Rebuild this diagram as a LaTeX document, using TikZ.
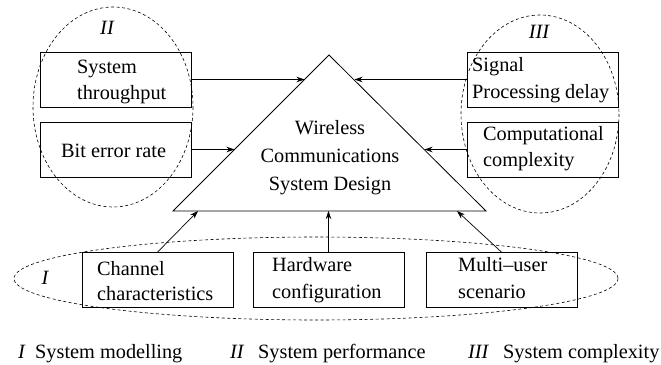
\documentclass[tikz,border=0pt]{standalone}
\usepackage{fontspec}
\setmainfont{Liberation Serif}
\usetikzlibrary{arrows.meta}
\begin{document}
\begin{tikzpicture}[x=1pt,y=-1pt,
  every node/.style={font=\fontsize{20.3}{24}\selectfont},
  boxnode/.style={draw, line width=0.8pt, minimum width=151pt, minimum height=55pt, inner sep=0pt},
  txt/.style={anchor=base west, inner sep=0pt},
  ctxt/.style={anchor=base, inner sep=0pt},
  lab/.style={inner sep=0pt, font=\fontsize{20.3}{24}\selectfont\itshape},
  group/.style={draw, dashed, dash pattern=on 3pt off 2.5pt, line width=0.6pt},
  arr/.style={-{Stealth[length=8pt,width=5.5pt,inset=2.5pt]}, line width=0.7pt}]
\useasboundingbox (0,0) rectangle (661,364);
% groups
\draw[group] (113,107) ellipse [x radius=80, y radius=100];
\draw[group] (540,114) ellipse [x radius=79, y radius=99];
\draw[group] (316,278.5) ellipse [x radius=302, y radius=41.5];
\node[lab] (lII) at (107,28) {II};
\node[lab] (lIII) at (539,32) {III};
\node[lab] (lI) at (45,278) {I};
% triangle
\coordinate (apex) at (329,55);
\coordinate (bl) at (173,211);
\coordinate (br) at (486,211);
\draw[line width=0.8pt] (bl) -- (apex) -- (br) -- cycle;
\node[ctxt] (w1) at (330,134) {Wireless};
\node[ctxt] (w2) at (330,162) {Communications};
\node[ctxt] (w3) at (330,190) {System Design};
% boxes
\node[boxnode] (sys) at (115.5,79.5) {};
\node[boxnode] (ber) at (115.5,149.5) {};
\node[boxnode] (sig) at (542.5,79.5) {};
\node[boxnode] (comp) at (542.5,149.5) {};
\node[boxnode] (ch) at (157.5,280) {};
\node[boxnode] (hw) at (328.5,280) {};
\node[boxnode] (mu) at (501.5,280) {};
% box texts
\node[txt] (sys1) at (77,73) {System};
\node[txt] (sys2) at (77,99) {throughput};
\node[txt] (ber1) at (61,157) {Bit error rate};
\node[txt] (sig1) at (472,71) {Signal};
\node[txt] (sig2) at (472,98) {Processing delay};
\node[txt] (comp1) at (483,140) {Computational};
\node[txt] (comp2) at (483,166) {complexity};
\node[txt] (ch1) at (97,275) {Channel};
\node[txt] (ch2) at (97,300) {characteristics};
\node[txt] (hw1) at (272,271) {Hardware};
\node[txt] (hw2) at (272,298) {configuration};
\node[txt] (mu1) at (458,271) {Multi--user};
\node[txt] (mu2) at (458,298) {scenario};
% arrow targets on the triangle
\coordinate (t1) at (304.5,79.5);
\coordinate (t2) at (234.5,149.5);
\coordinate (t3) at (354.5,79.5);
\coordinate (t4) at (424.5,149.5);
\coordinate (b1) at (198,211);
\coordinate (b2) at (328.5,211);
\coordinate (b3) at (457,211);
\draw[arr] (sys.east) -- (t1);
\draw[arr] (ber.east) -- (t2);
\draw[arr] (sig.west) -- (t3);
\draw[arr] (comp.west) -- (t4);
\draw[arr] (ch.north) -- (b1);
\draw[arr] (hw.north) -- (b2);
\draw[arr] (mu.north) -- (b3);
% legend
\node[lab, anchor=base west] (g1) at (18,358) {I};
\node[txt] (g1t) at (35,358) {System modelling};
\node[lab, anchor=base west] (g2) at (230,358) {II};
\node[txt] (g2t) at (258,358) {System performance};
\node[lab, anchor=base west] (g3) at (468,358) {III};
\node[txt] (g3t) at (503,358) {System complexity};
\end{tikzpicture}
\end{document}
